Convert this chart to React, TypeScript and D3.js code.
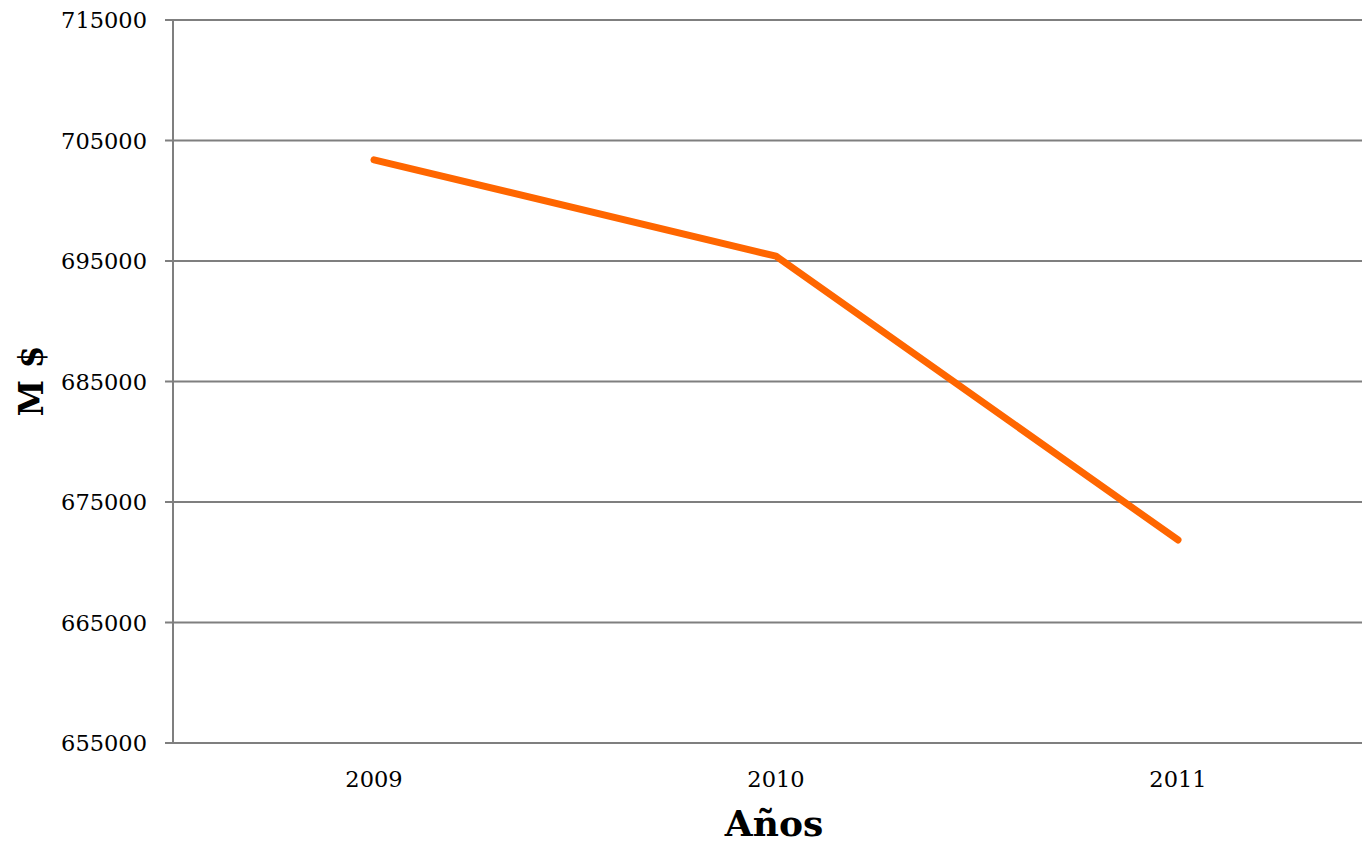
import React from "react";
import * as d3 from "d3";

const categories = ["2009", "2010", "2011"];
const values = [703400, 695400, 671850];
const yTicks = [655000, 665000, 675000, 685000, 695000, 705000, 715000];

const W = 1362;
const H = 845;
const left = 173;
const top = 20;
const bottom = 743;
const bandRight = 1379;

export default function App() {
  const x = d3.scaleBand<string>().domain(categories).range([left, bandRight]).padding(0);
  const y = d3.scaleLinear().domain([655000, 715000]).range([bottom, top]);
  const line = d3
    .line<number>()
    .x((_, i) => (x(categories[i]) as number) + x.bandwidth() / 2)
    .y((d) => y(d));
  const font = "'DejaVu Serif', serif";
  return (
    <svg width={W} height={H} style={{ position: "absolute", left: 0, top: 0, background: "#fff" }}>
      {yTicks.map((t) => (
        <g key={t}>
          <line x1={left - 8} x2={W} y1={y(t)} y2={y(t)} stroke="#7f7f7f" strokeWidth={2} />
          <text x={147} y={y(t)} dy="0.36em" textAnchor="end" fontFamily={font} fontSize={22.5} fill="#000">
            {t}
          </text>
        </g>
      ))}
      <line x1={left} x2={left} y1={top} y2={bottom} stroke="#7f7f7f" strokeWidth={2} />
      {categories.map((c) => (
        <text
          key={c}
          x={(x(c) as number) + x.bandwidth() / 2}
          y={787}
          textAnchor="middle"
          fontFamily={font}
          fontSize={22.5}
          fill="#000"
        >
          {c}
        </text>
      ))}
      <path
        d={line(values) || ""}
        fill="none"
        stroke="#ff6600"
        strokeWidth={7}
        strokeLinecap="round"
        strokeLinejoin="round"
      />
      <text x={774} y={836} textAnchor="middle" fontFamily={font} fontSize={36} fontWeight="bold" fill="#000">
        Años
      </text>
      <text
        transform="translate(43,381) rotate(-90)"
        textAnchor="middle"
        fontFamily={font}
        fontSize={33}
        fontWeight="bold"
        fill="#000"
      >
        M $
      </text>
    </svg>
  );
}
